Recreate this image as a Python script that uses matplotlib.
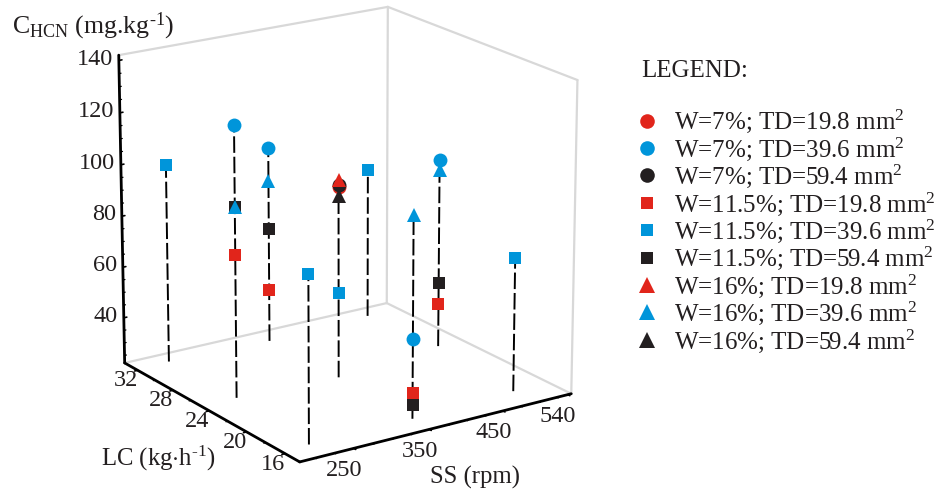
import matplotlib
matplotlib.use("Agg")
import matplotlib.pyplot as plt
from matplotlib.lines import Line2D
from mpl_toolkits.mplot3d import proj3d

plt.rcParams['font.family'] = ['Liberation Serif', 'DejaVu Serif']
plt.rcParams['mathtext.fontset'] = 'custom'
plt.rcParams['mathtext.rm'] = 'Liberation Serif'
plt.rcParams['mathtext.default'] = 'rm'

RED, BLUE, BLACK = '#E1251B', '#0095DA', '#231F20'
BOX = '#D8D8D8'
W_PX, H_PX = 937, 491

# axis ranges and ticks
SS_MIN, SS_MAX = 180, 545
LC_MIN, LC_MAX = 14.5, 33.5
C_MIN, C_MAX = 22, 142
ss_ticks = [250, 350, 450, 540]
lc_ticks = [16, 20, 24, 28, 32]
c_ticks = [40, 60, 80, 100, 120, 140]
ss_minor = [200, 225, 275, 300, 325, 375, 400, 425, 475, 500, 525]
lc_minor = [18, 22, 26, 30]
c_minor = [25, 30, 35, 45, 50, 55, 65, 70, 75, 85, 90, 95, 105, 110, 115, 125, 130, 135]

SS_LO, SS_MD, SS_HI = 216, 353, 491
LC_LO, LC_MD, LC_HI = 16.4, 24, 31.5

# stems
stem_ss = [SS_LO, SS_LO, SS_LO, SS_MD, SS_MD, SS_MD, SS_HI, SS_HI, SS_HI]
stem_lc = [LC_LO, LC_MD, LC_HI, LC_LO, LC_MD, LC_HI, LC_LO, LC_MD, LC_HI]
stem_top = [86, 128.3, 101, 99.7, 100, 100, 74.7, 99.6, 83]
stem_base = [22, 24.5, 24, 22, 23, 23, 23, 26, 24]

# series: SS, LC, C
s1_ss, s1_lc, s1_c = [SS_MD], [LC_MD], [97]       # W=7 TD=19.8
s2_ss, s2_lc, s2_c = [SS_LO, SS_MD, SS_MD, SS_HI], [LC_MD, LC_HI, LC_LO, LC_MD], [128.3, 100, 52.8, 99.6]  # W=7 TD=39.6
s3_ss, s3_lc, s3_c = [SS_MD], [LC_MD], [98]       # W=7 TD=59.4
s4_ss, s4_lc, s4_c = [SS_LO, SS_MD, SS_MD, SS_HI], [LC_MD, LC_HI, LC_LO, LC_MD], [79.5, 43.5, 32, 42.8]    # W=11.5 TD=19.8
s5_ss, s5_lc, s5_c = [SS_LO, SS_LO, SS_MD, SS_HI, SS_HI], [LC_HI, LC_LO, LC_MD, LC_LO, LC_HI], [101, 86, 56.2, 74.7, 83]  # W=11.5 TD=39.6
s6_ss, s6_lc, s6_c = [SS_LO, SS_MD, SS_MD, SS_HI], [LC_MD, LC_HI, LC_LO, LC_MD], [97.6, 67.8, 27.5, 51]    # W=11.5 TD=59.4
s7_ss, s7_lc, s7_c = [SS_MD], [LC_MD], [100]      # W=16 TD=19.8
s8_ss, s8_lc, s8_c = [SS_LO, SS_MD, SS_MD, SS_HI], [LC_MD, LC_HI, LC_LO, LC_MD], [97.6, 86.7, 99.7, 95.6]  # W=16 TD=39.6
s9_ss, s9_lc, s9_c = [SS_MD], [LC_MD], [93.7]     # W=16 TD=59.4

series = [
    (s1_ss, s1_lc, s1_c, 'o', RED, 'W=7%; TD=19.8 mm$^{2}$', 1),
    (s3_ss, s3_lc, s3_c, 'o', BLACK, 'W=7%; TD=59.4 mm$^{2}$', 3),
    (s7_ss, s7_lc, s7_c, '^', RED, 'W=16%; TD=19.8 mm$^{2}$', 7),
    (s9_ss, s9_lc, s9_c, '^', BLACK, 'W=16%; TD=59.4 mm$^{2}$', 9),
    (s2_ss, s2_lc, s2_c, 'o', BLUE, 'W=7%; TD=39.6 mm$^{2}$', 2),
    (s4_ss, s4_lc, s4_c, 's', RED, 'W=11.5%; TD=19.8 mm$^{2}$', 4),
    (s6_ss, s6_lc, s6_c, 's', BLACK, 'W=11.5%; TD=59.4 mm$^{2}$', 6),
    (s5_ss, s5_lc, s5_c, 's', BLUE, 'W=11.5%; TD=39.6 mm$^{2}$', 5),
    (s8_ss, s8_lc, s8_c, '^', BLUE, 'W=16%; TD=39.6 mm$^{2}$', 8),
]
SIZES = {'o': 10, 's': 8.8, '^': 10}
FS = 17.5

fig = plt.figure(figsize=(W_PX / 100, H_PX / 100), dpi=100)
S = 600
CX, CY = 337.5, 233
ax = fig.add_axes([(CX - S / 2) / W_PX, (H_PX - CY - S / 2) / H_PX, S / W_PX, S / H_PX],
                  projection='3d', computed_zorder=False)
ax.set_proj_type('persp', focal_length=1.2)
ax.view_init(elev=18.5, azim=-124)
ax.set_xlim(SS_MIN, SS_MAX, view_margin=0)
ax.set_ylim(LC_MIN, LC_MAX, view_margin=0)
ax.set_zlim(C_MIN, C_MAX, view_margin=0)
ax.set_box_aspect((1, 1, 1.005), zoom=0.915)
ax.set_axis_off()
ax.patch.set_alpha(0)
ax.apply_aspect()
M = ax.get_proj()


def seg(a, b, **kw):
    ax.plot([a[0], b[0]], [a[1], b[1]], [a[2], b[2]], solid_capstyle='round', **kw)


def label3d(x, y, z, s, **kw):
    X, Y, _ = proj3d.proj_transform(x, y, z, M)
    ax.text2D(X, Y, s, transform=ax.transData, color=BLACK, fontsize=FS, va='center', **kw)


# light box: back walls
gray = dict(color=BOX, lw=1.6, zorder=1)
seg((SS_MIN, LC_MAX, C_MAX), (SS_MAX, LC_MAX, C_MAX), **gray)
seg((SS_MAX, LC_MAX, C_MAX), (SS_MAX, LC_MIN, C_MAX), **gray)
seg((SS_MAX, LC_MAX, C_MIN), (SS_MAX, LC_MAX, C_MAX), **gray)
seg((SS_MIN, LC_MAX, C_MIN), (SS_MAX, LC_MAX, C_MIN), **gray)
seg((SS_MAX, LC_MAX, C_MIN), (SS_MAX, LC_MIN, C_MIN), **gray)
seg((SS_MAX, LC_MIN, C_MIN), (SS_MAX, LC_MIN, C_MAX), **gray)

# black axes
dark = dict(color='black', lw=2.0, zorder=2)
seg((SS_MIN, LC_MAX, C_MIN), (SS_MIN, LC_MAX, C_MAX), **dark)
seg((SS_MIN, LC_MIN, C_MIN), (SS_MIN, LC_MAX, C_MIN), **dark)
seg((SS_MIN, LC_MIN, C_MIN), (SS_MAX, LC_MIN, C_MIN), **dark)

tick = dict(color='black', lw=1.2, zorder=2)
minor = dict(color='black', lw=0.9, zorder=2)
for v in c_ticks:
    seg((SS_MIN, LC_MAX, v), (SS_MIN + 4, LC_MAX, v), **tick)
    label3d(SS_MIN - 3, LC_MAX + 0.4, v, str(v), ha='right')
for v in c_minor:
    seg((SS_MIN, LC_MAX, v), (SS_MIN + 2.5, LC_MAX, v), **minor)
for v in lc_ticks:
    seg((SS_MIN, v, C_MIN), (SS_MIN - 4, v, C_MIN), **tick)
    label3d(SS_MIN - 17, v - 0.1, C_MIN - 2.6, str(v), ha='center')
for v in lc_minor:
    seg((SS_MIN, v, C_MIN), (SS_MIN - 2.5, v, C_MIN), **minor)
for v in ss_ticks:
    seg((v, LC_MIN, C_MIN), (v, LC_MIN - 0.2, C_MIN), **tick)
    label3d(v - 3, LC_MIN + 0.7, C_MIN - 9.8, str(v), ha='center')
for v in ss_minor:
    seg((v, LC_MIN, C_MIN), (v, LC_MIN - 0.12, C_MIN), **minor)

# stems
for xs, ys, base, top in zip(stem_ss, stem_lc, stem_base, stem_top):
    ax.plot([xs, xs], [ys, ys], [base, top], color='black', lw=1.4,
            linestyle=(0, (8.5, 2)), zorder=3)

# markers
for i, (xs, ys, zs, m, c, lab, _) in enumerate(series):
    ax.plot(xs, ys, zs, linestyle='none', marker=m, color=c, ms=SIZES[m],
            mew=0, zorder=4 + i * 0.1)


def ftext(px, py, s, **kw):
    fig.text(px / W_PX, 1 - py / H_PX, s, color=BLACK, **kw)


ftext(12, 26, r'C$_{\mathrm{HCN}}$ (mg.kg$^{\text{-}1}$)', fontsize=18.6, ha='left', va='center')
ftext(101, 458, r'LC (kg$\cdot$h$^{\text{-}1}$)', fontsize=17.8, ha='left', va='center')
ftext(430, 477, 'SS (rpm)', fontsize=17.8, ha='left', va='center')
ftext(641, 71, 'LEGEND:', fontsize=18, ha='left', va='center')

# legend
order = [1, 2, 3, 4, 5, 6, 7, 8, 9]
by_id = {s[6]: s for s in series}
handles = [Line2D([], [], linestyle='none', marker=by_id[i][3], color=by_id[i][4],
                  ms={'o': 10.5, 's': 9, '^': 11}[by_id[i][3]], mew=0, label=by_id[i][5])
           for i in order]
leg = fig.legend(handles=handles, loc='upper left', bbox_to_anchor=(634.5 / W_PX, 1 - 108 / H_PX),
                 frameon=False, fontsize=18, labelspacing=0.0, handletextpad=0.6,
                 handlelength=1.0, borderpad=0, borderaxespad=0, labelcolor=BLACK)

fig.savefig('out.png', dpi=100)
